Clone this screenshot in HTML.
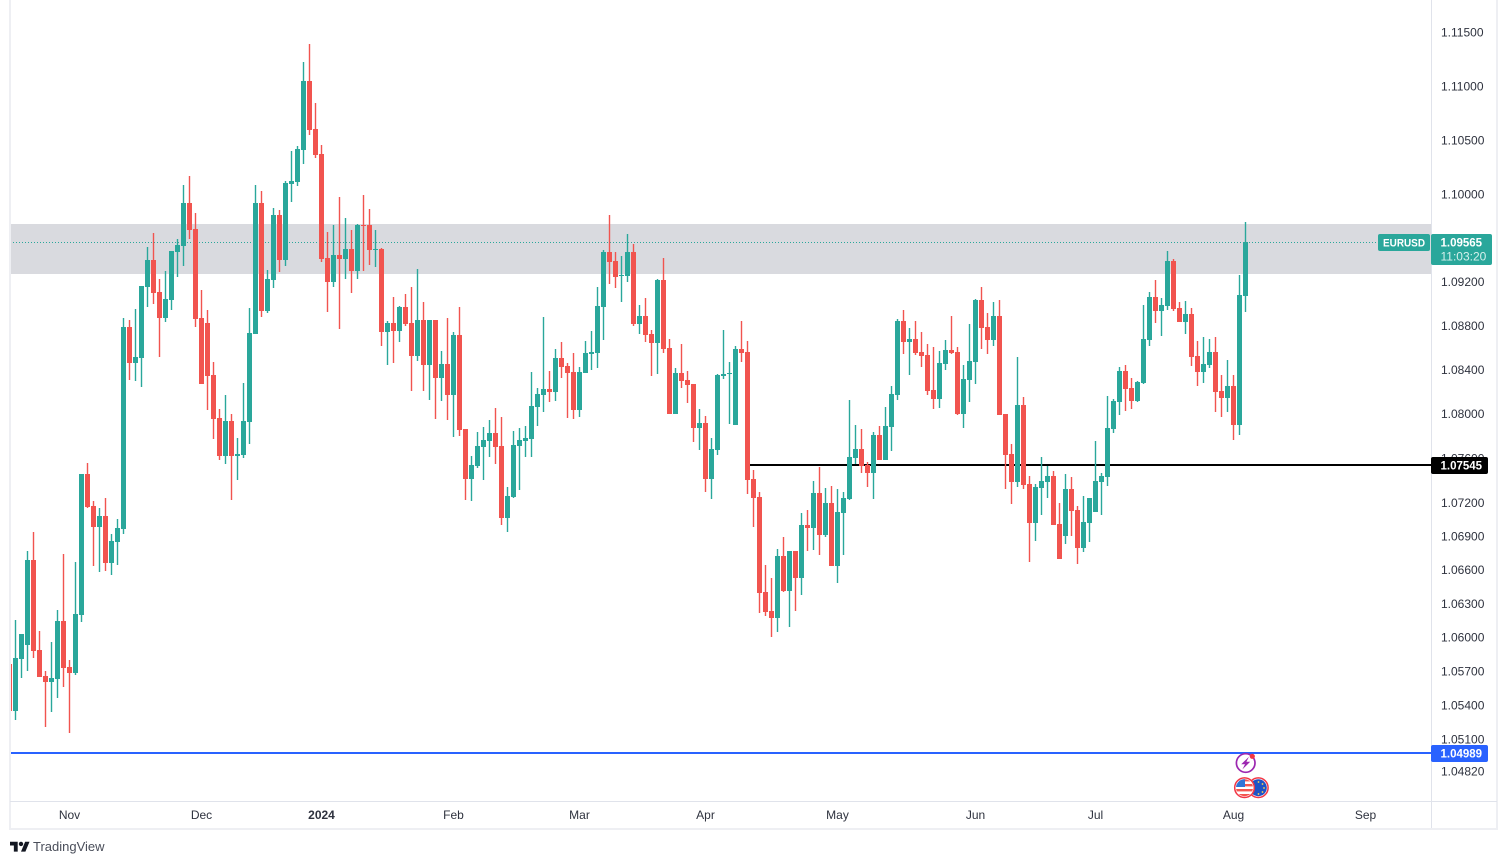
<!DOCTYPE html>
<html lang="en">
<head>
<meta charset="utf-8">
<title>EURUSD chart</title>
<style>
html,body{margin:0;padding:0;background:#fff;width:1507px;height:864px;overflow:hidden}
svg{display:block;position:absolute;left:0;top:0}
text{font-family:"Liberation Sans",Arial,sans-serif;font-size:12px}
</style>
</head>
<body>
<svg id="chart" width="1507" height="864" viewBox="0 0 1507 864" xmlns="http://www.w3.org/2000/svg">
  <defs>
    <clipPath id="plot-clip"><rect x="10" y="0" width="1421" height="801"></rect></clipPath>
    <clipPath id="us-clip"><circle cx="1244.5" cy="787.7" r="8.5"></circle></clipPath>
    <clipPath id="eu-clip"><circle cx="1258.3" cy="787.7" r="8.5"></circle></clipPath>
  </defs>
  <rect x="0" y="0" width="1507" height="864" fill="#ffffff"></rect>
  <g id="plot" clip-path="url(#plot-clip)">
    <g id="under"></g>
    <g id="levels"></g>
    <g id="candles"></g>
  </g>
  <rect x="9" y="0" width="2" height="830" fill="#eeeff3"></rect>
  <rect x="1431" y="0" width="1" height="829" fill="#e0e3eb"></rect>
  <rect x="1496" y="0" width="2" height="830" fill="#eeeff3"></rect>
  <rect x="10" y="801" width="1487" height="1" fill="#e0e3eb"></rect>
  <rect x="9" y="828" width="1489" height="2" fill="#eeeff3"></rect>
  <g id="price-axis"></g>
  <g id="time-axis"></g>
  <g id="badges"></g>
  <g>
    <circle cx="1245.7" cy="763" r="9.3" fill="#ffffff" stroke="#9c27b0" stroke-width="1.7"></circle>
    <path d="M1249 756.8 L1241.2 764.2 L1245 764.2 L1242.4 769.4 L1250.2 761.8 L1246.4 761.8 Z" fill="#9c27b0"></path>
    <circle cx="1252.3" cy="756.3" r="2.6" fill="#f23645"></circle>
  </g>
  <g>
    <circle cx="1258.3" cy="787.7" r="9.8" fill="#ffffff" stroke="#f23645" stroke-width="1.5"></circle>
    <g clip-path="url(#eu-clip)">
      <rect x="1248" y="778" width="20" height="20" fill="#1e53c6"></rect>
      <circle cx="1258.5" cy="782" r="0.9" fill="#ffd54f"></circle>
      <circle cx="1262.5" cy="784" r="0.9" fill="#ffd54f"></circle>
      <circle cx="1264" cy="788" r="0.9" fill="#ffd54f"></circle>
      <circle cx="1262.5" cy="792" r="0.9" fill="#ffd54f"></circle>
      <circle cx="1258.5" cy="794" r="0.9" fill="#ffd54f"></circle>
    </g>
  </g>
  <g>
    <circle cx="1244.5" cy="787.7" r="9.8" fill="#ffffff" stroke="#f23645" stroke-width="1.5"></circle>
    <g clip-path="url(#us-clip)">
      <rect x="1235" y="779" width="20" height="18" fill="#ffffff"></rect>
      <rect x="1235" y="779" width="20" height="2.4" fill="#f4554f"></rect>
      <rect x="1235" y="784" width="20" height="2.4" fill="#f4554f"></rect>
      <rect x="1235" y="789" width="20" height="2.4" fill="#f4554f"></rect>
      <rect x="1235" y="794" width="20" height="3" fill="#f4554f"></rect>
      <rect x="1235" y="779" width="10" height="8" fill="#2f74d6"></rect>
    </g>
  </g>
  <g>
    <g transform="translate(10,839.5) scale(0.55)" fill="#131722">
      <path d="M14 22H7V11H0V4h14v18zM28 22h-8l7.5-18h8L28 22z"></path>
      <circle cx="20" cy="8" r="4"></circle>
    </g>
    <text x="33" y="851" fill="#4a4e5a" style="font-size:13px">TradingView</text>
  </g>
</svg>
<script>
// Candle values (first entry is the bar clipped by the left edge)
const opens = [1.05762,1.05347,1.05806,1.05929,1.06685,1.05885,1.05656,1.05603,1.05629,1.06143,1.05735,1.05682,1.06196,1.07455,1.07168,1.06980,1.07079,1.06658,1.06846,1.06962,
1.08784,1.08457,1.08503,1.09148,1.09395,1.09102,1.08866,1.09029,1.09468,1.09523,1.09917,1.09679,1.08866,1.08820,1.08348,1.07959,1.07617,1.07932,1.07617,1.07626,
1.07923,1.08720,1.09917,1.08929,1.09212,1.09807,1.09395,1.10092,1.10111,1.10405,1.11044,1.10599,1.10368,1.09413,1.09194,1.09440,1.09404,1.09495,1.09294,1.09716,
1.09716,1.09486,1.09495,1.08738,1.08820,1.08747,1.08965,1.08820,1.08521,1.08847,1.08439,1.08847,1.08321,1.08448,1.08167,1.08711,1.07860,1.07411,1.07527,1.07698,
1.07752,1.07824,1.07707,1.07061,1.07249,1.07707,1.07752,1.07770,1.08059,1.08167,1.08222,1.08195,1.08503,1.08430,1.08376,1.08032,1.08367,1.08539,1.08548,1.08965,
1.09468,1.09386,1.09248,1.09248,1.09468,1.08811,1.08884,1.08720,1.08639,1.09212,1.08593,1.07996,1.08367,1.08303,1.08267,1.07869,1.07914,1.07411,1.07671,1.08339,
1.08357,1.07896,1.08584,1.08557,1.07411,1.07249,1.06400,1.06231,1.06169,1.06721,1.06409,1.06765,1.06525,1.06998,1.06971,1.07285,1.06908,1.07195,1.06632,1.07106,
1.07231,1.07599,1.07680,1.07536,1.07464,1.07806,1.07581,1.07878,1.08167,1.08838,1.08648,1.08675,1.08557,1.08530,1.08213,1.08131,1.08448,1.08575,1.08557,1.07996,
1.08303,1.08466,1.09029,1.08784,1.08666,1.08884,1.07996,1.07635,1.07384,1.08077,1.07366,1.07016,1.07330,1.07384,1.07438,1.07007,1.06899,1.07321,1.07132,1.06792,
1.07016,1.07115,1.07384,1.07429,1.07860,1.08104,1.08385,1.08231,1.08113,1.08276,1.08666,1.09056,1.08929,1.08974,1.09386,1.08956,1.08829,1.08902,1.08521,1.08376,
1.08439,1.08557,1.08204,1.08140,1.08249,1.07896,1.09066];
const highs = [1.05797,1.06151,1.06027,1.06765,1.06935,1.06054,1.05700,1.05956,1.06240,1.06738,1.05797,1.06667,1.07455,1.07554,1.07213,1.07150,1.07240,1.06917,1.07052,1.08866,
1.08847,1.08947,1.09157,1.09514,1.09642,1.09221,1.09294,1.09477,1.09587,1.10083,1.10166,1.09826,1.09120,1.08938,1.08466,1.08041,1.08167,1.07996,1.07779,1.08276,
1.08956,1.10083,1.10028,1.09303,1.09872,1.09853,1.10120,1.10396,1.10442,1.11221,1.11388,1.10840,1.10451,1.09651,1.09716,1.09973,1.09780,1.09670,1.09725,1.09991,
1.09862,1.09670,1.09504,1.08838,1.09056,1.08974,1.09084,1.09148,1.09312,1.09011,1.08847,1.08847,1.08566,1.08866,1.08738,1.08965,1.07860,1.07617,1.07833,1.07878,
1.07941,1.08050,1.07968,1.07339,1.07842,1.07869,1.07887,1.08376,1.08231,1.08875,1.08385,1.08584,1.08648,1.08457,1.08548,1.08421,1.08657,1.08747,1.09148,1.09486,
1.09807,1.09468,1.09431,1.09633,1.09541,1.08984,1.09047,1.08756,1.09221,1.09413,1.08675,1.08412,1.08630,1.08385,1.08267,1.08041,1.07977,1.07779,1.08357,1.08756,
1.08466,1.08611,1.08838,1.08657,1.07491,1.07294,1.06640,1.06525,1.06783,1.06890,1.06765,1.06765,1.07106,1.07132,1.07393,1.07518,1.07330,1.07348,1.07321,1.07294,
1.08122,1.07896,1.07860,1.07563,1.07833,1.07887,1.08059,1.08249,1.08857,1.08938,1.08775,1.08838,1.08738,1.08630,1.08602,1.08566,1.08666,1.08884,1.08602,1.08439,
1.08811,1.09038,1.09148,1.08911,1.09011,1.09029,1.07996,1.07725,1.08512,1.08149,1.07438,1.07366,1.07608,1.07527,1.07482,1.07195,1.07455,1.07429,1.07168,1.07258,
1.07240,1.07752,1.07464,1.08158,1.08131,1.08421,1.08439,1.08321,1.08294,1.08984,1.09102,1.09212,1.09047,1.09477,1.09404,1.09011,1.09020,1.08956,1.08657,1.08693,
1.08675,1.08693,1.08348,1.08484,1.08348,1.09257,1.09743];
const lows = [1.05312,1.05268,1.05638,1.05700,1.05814,1.05647,1.05206,1.05338,1.05462,1.05558,1.05154,1.05664,1.06134,1.07150,1.06632,1.06578,1.06587,1.06552,1.06641,1.06917,
1.08303,1.08294,1.08240,1.08965,1.08993,1.08512,1.08829,1.08938,1.09239,1.09340,1.09587,1.08784,1.08267,1.08032,1.07770,1.07581,1.07545,1.07222,1.07402,1.07599,
1.07725,1.08720,1.08875,1.08911,1.09139,1.09285,1.09340,1.09927,1.10074,1.10276,1.10544,1.10331,1.09377,1.08920,1.09148,1.08766,1.09221,1.09093,1.09221,1.09294,
1.09349,1.09331,1.08611,1.08439,1.08457,1.08648,1.08793,1.08204,1.08475,1.08204,1.08122,1.07950,1.08113,1.07941,1.07788,1.07797,1.07222,1.07213,1.07509,1.07402,
1.07608,1.07545,1.06998,1.06935,1.07240,1.07312,1.07608,1.07608,1.07887,1.08014,1.08104,1.08113,1.08321,1.07959,1.07950,1.07968,1.08367,1.08394,1.08412,1.08666,
1.09175,1.09139,1.09011,1.09194,1.08793,1.08720,1.08648,1.08339,1.08357,1.08548,1.07996,1.07996,1.08231,1.08095,1.07743,1.07671,1.07294,1.07231,1.07626,1.08312,
1.07905,1.07896,1.08466,1.07276,1.06980,1.06214,1.06187,1.06000,1.06045,1.06400,1.06089,1.06231,1.06374,1.06765,1.06774,1.06730,1.06890,1.06632,1.06480,1.06730,
1.07222,1.07545,1.07464,1.07339,1.07231,1.07581,1.07581,1.07662,1.08122,1.08539,1.08348,1.08530,1.08421,1.08167,1.08041,1.08050,1.08394,1.08539,1.07987,1.07869,
1.08104,1.08267,1.08584,1.08539,1.08611,1.07987,1.07321,1.07186,1.07339,1.07321,1.06667,1.06855,1.07088,1.07240,1.06998,1.06694,1.06828,1.06899,1.06649,1.06756,
1.06846,1.07115,1.07088,1.07348,1.07824,1.07987,1.08023,1.08041,1.08104,1.08267,1.08611,1.08820,1.08702,1.08938,1.08929,1.08829,1.08720,1.08430,1.08249,1.08276,
1.08412,1.08014,1.07968,1.08014,1.07761,1.07806,1.08920];
const closes = [1.05347,1.05814,1.06027,1.06685,1.05876,1.05647,1.05603,1.05638,1.06143,1.05726,1.05682,1.06205,1.07455,1.07159,1.06980,1.07079,1.06658,1.06855,1.06971,1.08784,
1.08457,1.08512,1.09157,1.09395,1.09093,1.08866,1.09038,1.09477,1.09532,1.09917,1.09670,1.08857,1.08267,1.08339,1.07950,1.07617,1.07932,1.07617,1.07635,1.07932,
1.08729,1.09917,1.08929,1.09221,1.09807,1.09395,1.10101,1.10120,1.10414,1.11044,1.10590,1.10359,1.09404,1.09194,1.09440,1.09404,1.09495,1.09294,1.09716,1.09706,
1.09486,1.09495,1.08738,1.08820,1.08747,1.08965,1.08811,1.08521,1.08847,1.08439,1.08847,1.08321,1.08448,1.08167,1.08711,1.07851,1.07411,1.07536,1.07707,1.07761,
1.07824,1.07698,1.07061,1.07258,1.07716,1.07761,1.07779,1.08068,1.08176,1.08222,1.08195,1.08503,1.08421,1.08367,1.08032,1.08376,1.08548,1.08557,1.08974,1.09468,
1.09377,1.09239,1.09257,1.09468,1.08811,1.08884,1.08711,1.08639,1.09212,1.08584,1.07996,1.08367,1.08294,1.08258,1.07869,1.07914,1.07411,1.07680,1.08348,1.08357,
1.08367,1.08584,1.08548,1.07402,1.07240,1.06391,1.06222,1.06169,1.06721,1.06409,1.06765,1.06525,1.06998,1.06971,1.07285,1.06908,1.07195,1.06632,1.07115,1.07240,
1.07608,1.07680,1.07527,1.07464,1.07806,1.07581,1.07887,1.08176,1.08838,1.08648,1.08675,1.08548,1.08521,1.08204,1.08131,1.08457,1.08575,1.08548,1.07996,1.08312,
1.08475,1.09029,1.08775,1.08666,1.08884,1.07987,1.07626,1.07384,1.08077,1.07357,1.07016,1.07339,1.07393,1.07438,1.06998,1.06694,1.07321,1.07123,1.06792,1.07025,
1.07240,1.07393,1.07438,1.07869,1.08113,1.08385,1.08222,1.08113,1.08285,1.08675,1.09056,1.08929,1.08984,1.09386,1.08947,1.08829,1.08902,1.08512,1.08376,1.08448,
1.08557,1.08195,1.08140,1.08249,1.07896,1.09075,1.09565];

// Axis labels
const priceTicks = [1.115,1.11,1.105,1.10,1.092,1.088,1.084,1.08,1.076,1.072,1.069,1.066,1.063,1.06,1.057,1.054,1.051,1.0482];
const timeLabels = ['Nov','Dec','2024','Feb','Mar','Apr','May','Jun','Jul','Aug','Sep'];
const timeIndexes = [10,32,52,74,95,116,138,161,181,204,226];

// Drawn levels and current price
const zoneTop = [1.09725];
const zoneBottom = [1.09267];
const blackLevel = [1.07545];
const blueLevel = [1.04989];
const lastPrice = [1.09565];
const countdown = ['11:03:20'];
const symbol = ['EURUSD'];

const GREEN = '#2aa79b';
const RED = '#f1544f';
const NS = 'http://www.w3.org/2000/svg';

function xScale(i) { return 9.5 + 6 * i; }
function yScale(p) { return 194.3 + 11961 * Math.log(1.1 / p); }
function make(tag, parent, attrs) {
  const n = document.createElementNS(NS, tag);
  for (const k in attrs) n.setAttribute(k, attrs[k]);
  parent.appendChild(n);
  return n;
}
const under = document.getElementById('under');
const levels = document.getElementById('levels');
const candles = document.getElementById('candles');
const priceAxis = document.getElementById('price-axis');
const timeAxis = document.getElementById('time-axis');
const badges = document.getElementById('badges');

// Resistance zone
const zy1 = Math.round(yScale(zoneTop[0]));
const zy2 = Math.round(yScale(zoneBottom[0]));
const zone = make('rect', under, {x: 10, y: zy1, width: 1421, height: zy2 - zy1, fill: '#d9dadf'});



// Last price dotted line
const lastY = Math.round(yScale(lastPrice[0]));
const dotted = make('line', under, {x1: 10, x2: 1431, y1: lastY + 0.5, y2: lastY + 0.5, stroke: GREEN, 'stroke-width': 1, 'stroke-dasharray': '1 2'});



// Horizontal levels
const blackY = Math.round(yScale(blackLevel[0]));
const blackLine = make('rect', levels, {x: 750, y: blackY, width: 681, height: 2, fill: '#000000'});


const blueY = Math.round(yScale(blueLevel[0]));
const blueLine = make('rect', levels, {x: 10, y: blueY, width: 1421, height: 2, fill: '#2962ff'});



// Candles
for (let i = 0; i < opens.length; i++) {
  const up = closes[i] >= opens[i];
  const color = up ? GREEN : RED;
  const cx = xScale(i);
  const wt = Math.round(yScale(highs[i]));
  const wb = Math.round(yScale(lows[i]));
  const bt = Math.round(yScale(Math.max(opens[i], closes[i])));
  const bb = Math.round(yScale(Math.min(opens[i], closes[i])));
  const wick = make('rect', candles, {x: cx - 0.7, y: wt, width: 1.4, height: Math.max(1, wb - wt), fill: color});
  
  
  const body = make('rect', candles, {x: cx - 2.5, y: bt, width: 5, height: Math.max(1, bb - bt), fill: color, 'shape-rendering': 'crispEdges'});
  
  
}

// Price axis labels
priceTicks.forEach(function (t) {
  const label = make('text', priceAxis, {x: 1441, y: yScale(t) + 4.3, fill: '#2e323e'});
  
  
  label.textContent = t.toFixed(5);
});

// Time axis labels
timeLabels.forEach(function (t, k) {
  const label = make('text', timeAxis, {x: xScale(timeIndexes[k]), y: 819, fill: '#2e323e', 'text-anchor': 'middle'});
  
  
  if (t === '2024') label.setAttribute('font-weight', 'bold');
  label.textContent = t;
});

// Symbol badge
const symBox = make('rect', badges, {x: 1378, y: lastY - 8, width: 52, height: 17, rx: 2, fill: GREEN});


const symText = make('text', badges, {x: 1404, y: lastY + 4.5, fill: '#ffffff', 'text-anchor': 'middle', 'font-weight': 'bold', style: 'font-size:11px', textLength: 42, lengthAdjust: 'spacingAndGlyphs'});


symText.textContent = symbol[0];

// Last price badge
const priceBox = make('rect', badges, {x: 1431, y: lastY - 8, width: 61, height: 31, rx: 2, fill: GREEN});


const priceText = make('text', badges, {x: 1440.5, y: lastY + 4.5, fill: '#ffffff', 'font-weight': 'bold', style: 'font-size:11.5px'});


priceText.textContent = lastPrice[0].toFixed(5);
const timerText = make('text', badges, {x: 1440.5, y: lastY + 18.5, fill: '#d6f0ec'});


timerText.textContent = countdown[0];

// Level badges
const blackBox = make('rect', badges, {x: 1431, y: blackY - 7, width: 57, height: 17, rx: 2, fill: '#000000'});


const blackText = make('text', badges, {x: 1440.5, y: blackY + 5.5, fill: '#ffffff', 'font-weight': 'bold', style: 'font-size:11.5px'});


blackText.textContent = blackLevel[0].toFixed(5);
const blueBox = make('rect', badges, {x: 1431, y: blueY - 7, width: 57, height: 17, rx: 2, fill: '#2962ff'});


const blueText = make('text', badges, {x: 1440.5, y: blueY + 5.5, fill: '#ffffff', 'font-weight': 'bold', style: 'font-size:11.5px'});


blueText.textContent = blueLevel[0].toFixed(5);
</script>
</body>
</html>
